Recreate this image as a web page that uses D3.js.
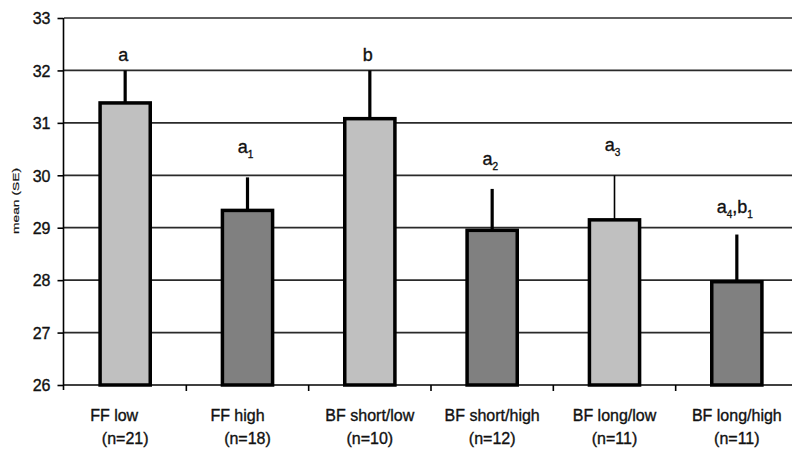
<!DOCTYPE html>
<html>
<head>
<meta charset="utf-8">
<script src="https://cdn.jsdelivr.net/npm/d3@7"></script>
<style>
	body { margin: 0; background: #fff; }
	text { font-family: "Liberation Sans", Arial, sans-serif; fill: #111; stroke: #111; stroke-width: 0.35px; }
</style>
</head>
<body>
<div id="chart"></div>
<script>
// Chart values
const groups = ["FF low", "FF high", "BF short/low", "BF short/high", "BF long/low", "BF long/high"];
const sampleSizes = [21, 18, 10, 12, 11, 11];
const means = [31.38, 29.33, 31.08, 28.95, 29.15, 27.97];
const stdErrors = [0.62, 0.63, 0.92, 0.79, 0.85, 0.90];
const letters = [["a"], ["a", "1"], ["b"], ["a", "2"], ["a", "3"], ["a", "4", ",b", "1"]];
const yTicks = [26, 27, 28, 29, 30, 31, 32, 33];
const barTone = ["light", "dark", "light", "dark", "light", "dark"];

const outerwidth = 792, outerheight = 449;
const plotLeft = 64, plotRight = 798, plotTop = 18, plotBottom = 385;

const svg = d3.select("#chart")
	.append("svg")
	.attr("width", outerwidth)
	.attr("height", outerheight);

const xscale = d3.scaleBand().domain(groups).range([plotLeft, plotRight]).padding(0);
const yscale = d3.scaleLinear().domain([26, 33]).range([plotBottom, plotTop]);
const colors = d3.scaleOrdinal().domain(["light", "dark"]).range(["#c0c0c0", "#808080"]);
const barW = xscale.bandwidth() * 0.41;
const cx = d => xscale(d) + xscale.bandwidth() / 2;

// Grid lines
svg.append("g")
	.selectAll("line").data(yTicks.slice(1)).enter().append("line")
	.attr("x1", plotLeft).attr("x2", outerwidth)
	.attr("y1", d => yscale(d)).attr("y2", d => yscale(d))
	.attr("stroke", "#2a2a2a")
	.attr("stroke-width", 1.7);

// Y axis
const yaxis = svg.append("g")
	.attr("transform", "translate(" + (plotLeft - 0.5) + ",0)")
	.call(d3.axisLeft(yscale).tickValues(yTicks).tickSize(6).tickPadding(7).tickFormat(d3.format("d")));
yaxis.select(".domain").attr("stroke", "#000").attr("stroke-width", 1.6).attr("d", "M0," + plotTop + "V" + (plotBottom + 5));
yaxis.selectAll(".tick line").attr("stroke", "#000").attr("stroke-width", 1.6);
yaxis.selectAll(".tick text").style("font-size", "16px").attr("fill", "#111").attr("dy", "0.36em");

// Y title
svg.append("text")
	.attr("transform", "translate(19,201) rotate(-90)")
	.attr("text-anchor", "middle")
	.attr("textLength", 66)
	.attr("lengthAdjust", "spacingAndGlyphs")
	.style("font-size", "9px")
	.style("stroke-width", "0.2px")
	.text("mean (SE)");

// Error bars (upper whisker only)
const thinWhisker = new Set(["BF long/low"]);
svg.append("g")
	.selectAll("line").data(groups).enter().append("line")
	.attr("x1", d => cx(d)).attr("x2", d => cx(d))
	.attr("y1", (d, i) => yscale(means[i]))
	.attr("y2", (d, i) => yscale(means[i] + stdErrors[i]))
	.attr("stroke", "#000")
	.attr("stroke-width", d => thinWhisker.has(d) ? 1.6 : 3.2);

// Bars
svg.append("g")
	.selectAll("rect").data(groups).enter().append("rect")
	.attr("x", d => cx(d) - barW / 2)
	.attr("width", barW)
	.attr("y", (d, i) => yscale(means[i]))
	.attr("height", (d, i) => yscale(26) - yscale(means[i]))
	.attr("fill", (d, i) => colors(barTone[i]))
	.attr("stroke", "#000")
	.attr("stroke-width", 3.5);

// X axis line and boundary ticks
svg.append("line")
	.attr("x1", plotLeft).attr("x2", outerwidth)
	.attr("y1", plotBottom).attr("y2", plotBottom)
	.attr("stroke", "#000").attr("stroke-width", 1.6);
svg.append("g")
	.selectAll("line").data(groups.slice(1)).enter().append("line")
	.attr("x1", d => xscale(d)).attr("x2", d => xscale(d))
	.attr("y1", plotBottom).attr("y2", plotBottom + 6)
	.attr("stroke", "#000").attr("stroke-width", 1.6);

// Category labels, two lines
const firstLineNudge = { "FF low": -11, "FF high": -10 };
const xlab = svg.append("g").selectAll("text").data(groups).enter().append("text")
	.attr("text-anchor", "middle")
	.style("font-size", "16px");
xlab.append("tspan")
	.attr("x", d => cx(d) + (firstLineNudge[d] || 0))
	.attr("y", 421)
	.text(d => d);
xlab.append("tspan")
	.attr("x", d => cx(d))
	.attr("y", 444)
	.text((d, i) => "(n=" + sampleSizes[i] + ")");

// Significance letters with subscripts
const labelGap = [9, 24, 9, 24, 24, 22];
const letterText = svg.append("g").selectAll("text").data(groups).enter().append("text")
	.attr("x", d => cx(d) - 2)
	.attr("y", (d, i) => yscale(means[i] + stdErrors[i]) - labelGap[i])
	.attr("text-anchor", "middle")
	.style("font-size", "18px");
letterText.each(function(d, i) {
	const t = d3.select(this);
	letters[i].forEach((part, k) => {
		const isSub = k % 2 === 1;
		t.append("tspan")
			.attr("dy", isSub ? 5 : (k > 0 ? -5 : 0))
			.style("font-size", isSub ? "10px" : "18px")
			.text(part);
	});
});
</script>
</body>
</html>
